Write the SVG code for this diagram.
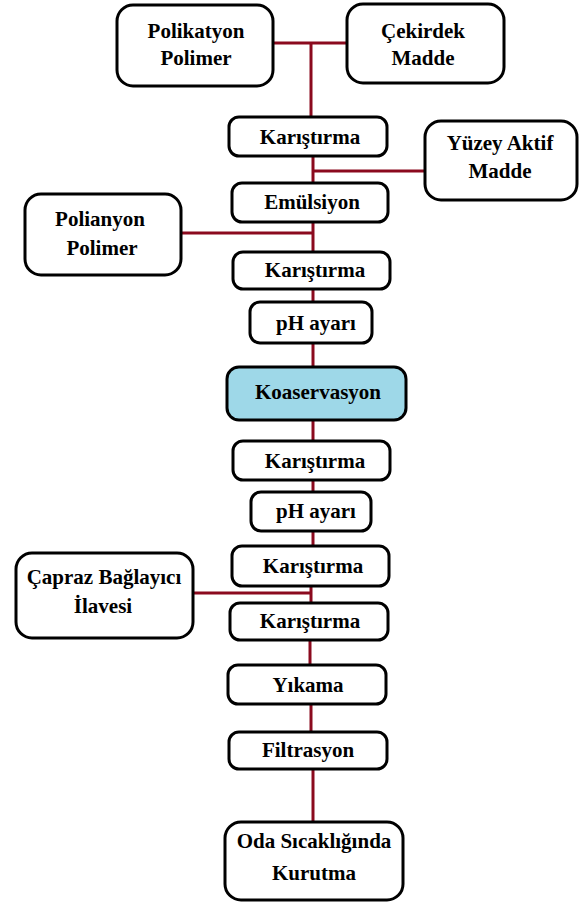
<svg xmlns="http://www.w3.org/2000/svg" width="579" height="905" viewBox="0 0 579 905">
<style>
.b{fill:#fff;stroke:#000;stroke-width:3}
.k{fill:#9ED8E8;stroke:#000;stroke-width:3}
.t{font-family:"Liberation Serif","Times New Roman",serif;font-weight:bold;font-size:21px;fill:#000;text-anchor:middle}
.c{stroke:#8B0A1E;stroke-width:3;fill:none}
</style>
<rect width="579" height="905" fill="#fff"/>
<g id="connectors">
<path class="c" d="M273 43H347M311 43V117"/>
<path class="c" d="M313 156V183M313 171H425"/>
<path class="c" d="M181 233H313M313 222V252"/>
<path class="c" d="M313 289V302"/>
<path class="c" d="M313 343V367"/>
<path class="c" d="M313 420V441"/>
<path class="c" d="M313 480V492"/>
<path class="c" d="M313 531V546"/>
<path class="c" d="M193 593H311M311 586V603"/>
<path class="c" d="M310 640V665"/>
<path class="c" d="M311 704V732"/>
<path class="c" d="M313 769V822"/>
</g>
<g id="polikatyon"><rect class="b" x="117" y="5" width="156" height="81" rx="16"/><text class="t" x="196" y="38">Polikatyon</text><text class="t" x="196" y="65">Polimer</text></g>
<g id="cekirdek"><rect class="b" x="347" y="4" width="157" height="79" rx="16"/><text class="t" x="423" y="38">Çekirdek</text><text class="t" x="423" y="65">Madde</text></g>
<g id="karistirma1"><rect class="b" x="229" y="117" width="158" height="39" rx="10"/><text class="t" x="310" y="144">Karıştırma</text></g>
<g id="yuzey"><rect class="b" x="425" y="121" width="152" height="79" rx="16"/><text class="t" x="500" y="150">Yüzey Aktif</text><text class="t" x="500" y="178">Madde</text></g>
<g id="emulsiyon"><rect class="b" x="232" y="183" width="156" height="39" rx="10"/><text class="t" x="312" y="209">Emülsiyon</text></g>
<g id="polianyon"><rect class="b" x="25" y="194" width="156" height="81" rx="16"/><text class="t" x="100" y="226">Polianyon</text><text class="t" x="102" y="255">Polimer</text></g>
<g id="karistirma2"><rect class="b" x="233" y="252" width="157" height="37" rx="10"/><text class="t" x="315" y="277">Karıştırma</text></g>
<g id="ph1"><rect class="b" x="250" y="302" width="122" height="41" rx="10"/><text class="t" x="316" y="330">pH ayarı</text></g>
<g id="koaservasyon"><rect class="k" x="227" y="367" width="179" height="53" rx="12"/><text class="t" x="318" y="399">Koaservasyon</text></g>
<g id="karistirma3"><rect class="b" x="233" y="441" width="157" height="39" rx="10"/><text class="t" x="315" y="468">Karıştırma</text></g>
<g id="ph2"><rect class="b" x="251" y="492" width="120" height="39" rx="10"/><text class="t" x="316" y="518">pH ayarı</text></g>
<g id="karistirma4"><rect class="b" x="232" y="546" width="157" height="40" rx="10"/><text class="t" x="313" y="573">Karıştırma</text></g>
<g id="capraz"><rect class="b" x="16" y="553" width="177" height="85" rx="16"/><text class="t" x="104" y="584">Çapraz Bağlayıcı</text><text class="t" x="103" y="613">İlavesi</text></g>
<g id="karistirma5"><rect class="b" x="230" y="603" width="158" height="37" rx="10"/><text class="t" x="310" y="628">Karıştırma</text></g>
<g id="yikama"><rect class="b" x="228" y="665" width="158" height="39" rx="10"/><text class="t" x="308" y="692">Yıkama</text></g>
<g id="filtrasyon"><rect class="b" x="229" y="732" width="158" height="37" rx="10"/><text class="t" x="308" y="757">Filtrasyon</text></g>
<g id="kurutma"><rect class="b" x="225" y="822" width="178" height="78" rx="16"/><text class="t" x="314" y="848">Oda Sıcaklığında</text><text class="t" x="314" y="880">Kurutma</text></g>
</svg>
